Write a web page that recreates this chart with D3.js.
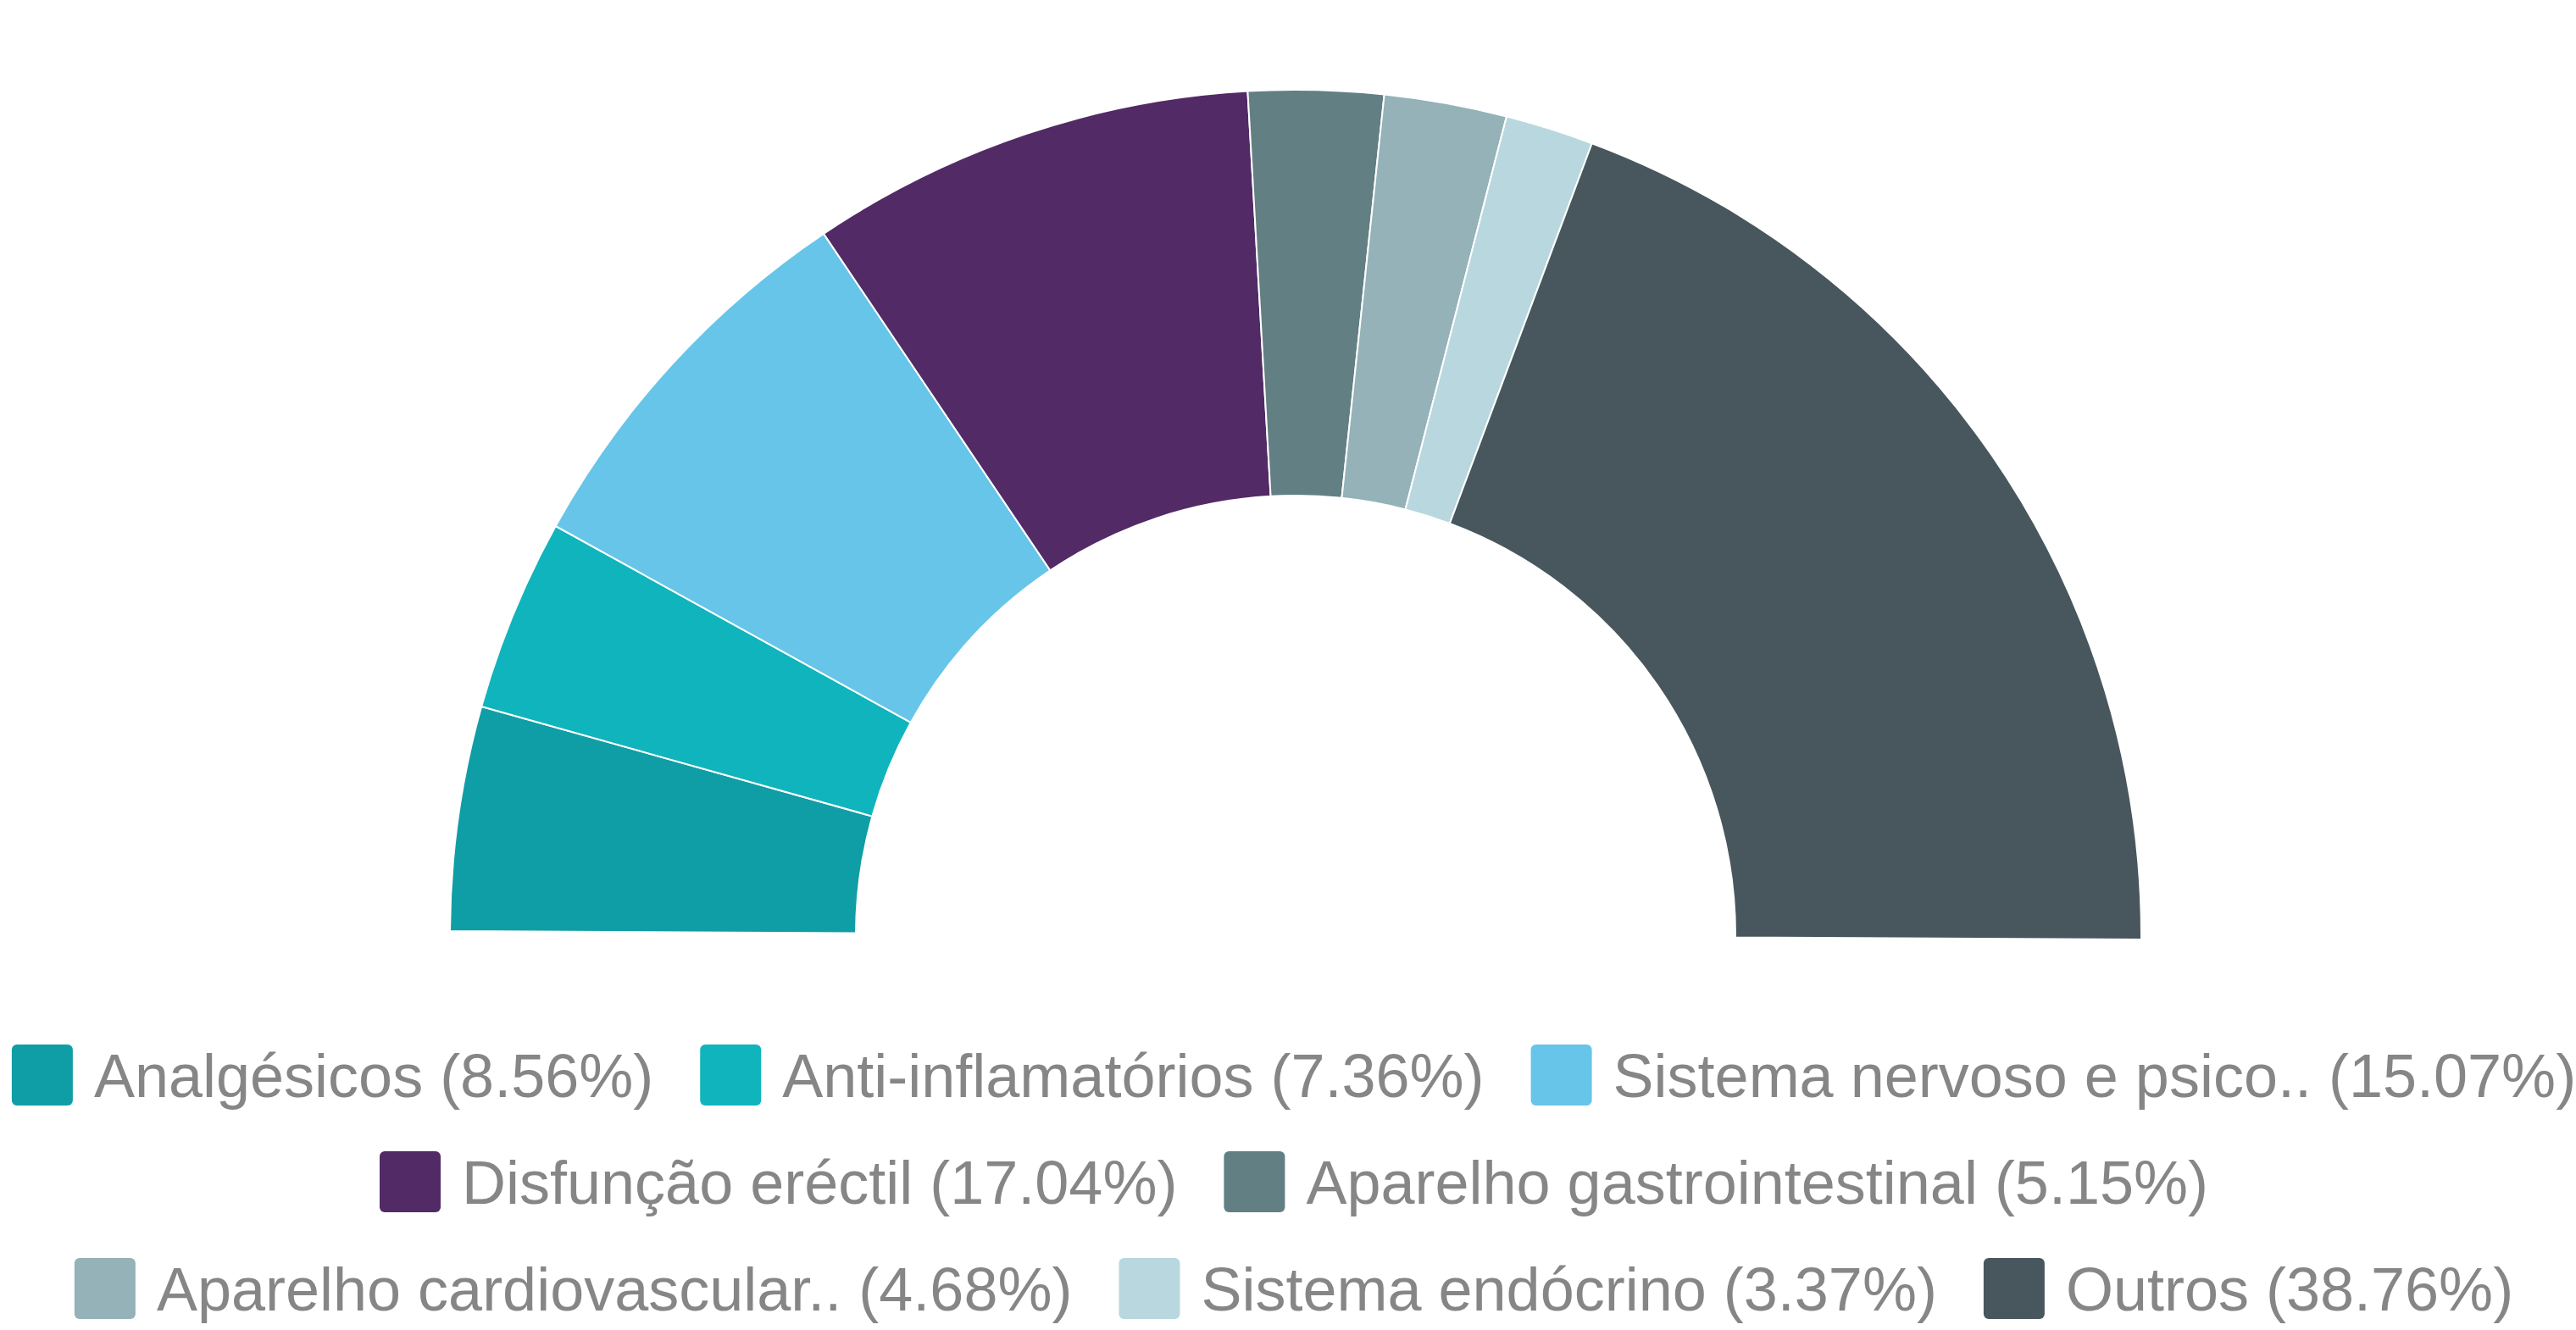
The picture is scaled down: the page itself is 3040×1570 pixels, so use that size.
<!DOCTYPE html>
<html>
<head>
<meta charset="utf-8">
<script src="https://cdn.jsdelivr.net/npm/d3@7"></script>
<style>
  body { margin: 0; background: #fff; }
  svg { display: block; }
</style>
</head>
<body>
<div id="viz"></div>
<script>
// dados do gráfico
var categories = ["Analgésicos", "Anti-inflamatórios", "Sistema nervoso e psico..", "Disfunção eréctil",
    "Aparelho gastrointestinal", "Aparelho cardiovascular..", "Sistema endócrino", "Outros"];
var values = [8.56, 7.36, 15.07, 17.04, 5.15, 4.68, 3.37, 38.76];
var colors = ["#0f9ea5", "#10b4bc", "#66c5e8", "#522a66", "#627f83", "#94b2b7", "#b8d7de", "#48575d"];

var width = 3040, height = 1570;

var svg = d3.select("#viz")
    .append("svg")
    .attr("width", width)
    .attr("height", height);

var data = categories.map(function (c, i) {
    return {name: c, value: values[i], color: colors[i]};
});

var tilt = 0.005; // o semicírculo original está ligeiramente rodado
var pie = d3.pie()
    .sort(null)
    .value(function (d) { return d.value; })
    .startAngle(-Math.PI / 2 + tilt)
    .endAngle(Math.PI / 2 + tilt);

var arc = d3.arc()
    .innerRadius(519)
    .outerRadius(998);

var chart = svg.append("g")
    .attr("transform", "translate(1529,1104)");

chart.selectAll("path")
    .data(pie(data))
    .enter()
    .append("path")
    .attr("d", arc)
    .attr("fill", function (d) { return d.data.color; })
    .attr("stroke", "#fff")
    .attr("stroke-width", 2);

// legenda: itens em linhas centradas
var fontSize = 72, box = 72, textGap = 25, itemGap = 55;
var rowY = [1269, 1395, 1521];
var legend = svg.append("g");

var items = legend.selectAll("g.item")
    .data(data)
    .enter()
    .append("g")
    .attr("class", "item");

items.append("rect")
    .attr("width", box)
    .attr("height", box)
    .attr("y", -box / 2)
    .attr("rx", 6)
    .attr("fill", function (d) { return d.color; });

items.append("text")
    .attr("x", box + textGap)
    .attr("y", 26)
    .attr("font-family", "'Liberation Sans', Arial, sans-serif")
    .attr("font-size", fontSize)
    .attr("fill", "#868686")
    .text(function (d) { return d.name + " (" + d.value.toFixed(2) + "%)"; });

// mede as larguras e quebra as linhas
var widths = [];
items.each(function () {
    widths.push(box + textGap + d3.select(this).select("text").node().getComputedTextLength());
});

var rows = [], cur = [], curW = 0;
widths.forEach(function (w, i) {
    var add = cur.length ? itemGap + w : w;
    if (cur.length && curW + add > width - 10) {
        rows.push({idx: cur, w: curW});
        cur = [i]; curW = w;
    } else {
        cur.push(i); curW += add;
    }
});
rows.push({idx: cur, w: curW});

var cx = 1527;
rows.forEach(function (r, ri) {
    var x = cx - r.w / 2;
    r.idx.forEach(function (i) {
        d3.select(items.nodes()[i])
            .attr("transform", "translate(" + x + "," + rowY[ri] + ")");
        x += widths[i] + itemGap;
    });
});
</script>
</body>
</html>
